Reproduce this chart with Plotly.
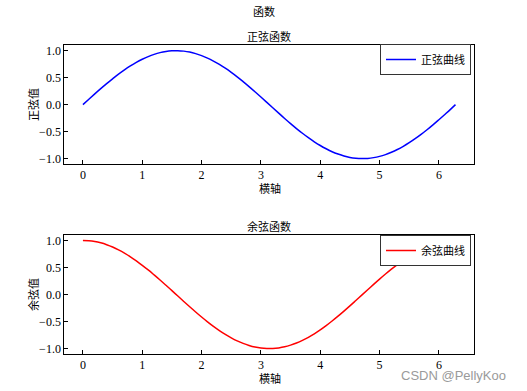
import plotly.graph_objects as go

x_vals = [0.0, 0.1, 0.2, 0.3, 0.4, 0.5, 0.6, 0.7, 0.8, 0.9, 1.0, 1.1, 1.2, 1.3, 1.4, 1.5,
          1.6, 1.7, 1.8, 1.9, 2.0, 2.1, 2.2, 2.3, 2.4, 2.5, 2.6, 2.7, 2.8, 2.9, 3.0, 3.1,
          3.2, 3.3, 3.4, 3.5, 3.6, 3.7, 3.8, 3.9, 4.0, 4.1, 4.2, 4.3, 4.4, 4.5, 4.6, 4.7,
          4.8, 4.9, 5.0, 5.1, 5.2, 5.3, 5.4, 5.5, 5.6, 5.7, 5.8, 5.9, 6.0, 6.1, 6.2, 6.28]
sin_vals = [0.0, 0.1, 0.199, 0.296, 0.389, 0.479, 0.565, 0.644, 0.717, 0.783, 0.841, 0.891, 0.932, 0.964, 0.985, 0.997,
            1.0, 0.992, 0.974, 0.946, 0.909, 0.863, 0.808, 0.746, 0.675, 0.598, 0.516, 0.427, 0.335, 0.239, 0.141, 0.042,
            -0.058, -0.158, -0.256, -0.351, -0.443, -0.53, -0.612, -0.688, -0.757, -0.818, -0.872, -0.916, -0.952, -0.978, -0.994, -1.0,
            -0.996, -0.982, -0.959, -0.926, -0.883, -0.832, -0.773, -0.706, -0.631, -0.551, -0.465, -0.374, -0.279, -0.182, -0.083, 0.0]
cos_vals = [1.0, 0.995, 0.98, 0.955, 0.921, 0.878, 0.825, 0.765, 0.697, 0.622, 0.54, 0.454, 0.362, 0.267, 0.17, 0.071,
            -0.029, -0.129, -0.227, -0.323, -0.416, -0.505, -0.589, -0.666, -0.737, -0.801, -0.857, -0.904, -0.942, -0.971, -0.99, -0.999,
            -0.998, -0.987, -0.967, -0.936, -0.897, -0.848, -0.791, -0.726, -0.654, -0.575, -0.49, -0.401, -0.307, -0.211, -0.112, -0.012,
            0.087, 0.187, 0.284, 0.378, 0.469, 0.554, 0.635, 0.709, 0.776, 0.835, 0.886, 0.927, 0.96, 0.983, 0.997, 1.0]
x_ticks = [0, 1, 2, 3, 4, 5, 6]
y_ticks = [-1.0, -0.5, 0.0, 0.5, 1.0]
y_tick_text = ["\u22121.0", "\u22120.5", "0.0", "0.5", "1.0"]

CJK = "Noto Sans CJK SC"
SERIF = "Liberation Serif, Times New Roman, serif"
W, H = 527, 391

fig = go.Figure()
fig.add_trace(go.Scatter(x=x_vals, y=sin_vals, mode="lines", name="正弦曲线",
                         line=dict(color="blue", width=1.5, shape="spline"),
                         xaxis="x", yaxis="y", legend="legend"))
fig.add_trace(go.Scatter(x=x_vals, y=cos_vals, mode="lines", name="余弦曲线",
                         line=dict(color="red", width=1.5, shape="spline"),
                         xaxis="x2", yaxis="y2", legend="legend2"))

def xax(domain, anchor):
    return dict(domain=domain, anchor=anchor, range=[-0.314, 6.597], tickvals=x_ticks,
                ticks="inside", ticklen=4, tickcolor="black", showline=True, linecolor="black",
                linewidth=1, mirror=True, showgrid=False, zeroline=False, automargin=False,
                tickfont=dict(family=SERIF, size=12, color="black"))

def yax(domain, anchor):
    return dict(domain=domain, anchor=anchor, range=[-1.1, 1.1], tickvals=y_ticks, ticktext=y_tick_text,
                ticks="inside", ticklen=4, tickcolor="black", showline=True, linecolor="black",
                linewidth=1, mirror=True, showgrid=False, zeroline=False, automargin=False,
                tickfont=dict(family=SERIF, size=12, color="black"))

xd = [64.3 / W, 474.3 / W]
y1d = [1 - 164 / H, 1 - 45.3 / H]
y2d = [1 - 354 / H, 1 - 235 / H]

legend_common = dict(xanchor="right", yanchor="middle", bgcolor="white", bordercolor="#333333",
                     borderwidth=1, font=dict(family=CJK, size=11, color="black"),
                     itemwidth=30, tracegroupgap=0)

fig.update_layout(
    width=W, height=H, margin=dict(l=0, r=0, t=0, b=0, autoexpand=False),
    paper_bgcolor="white", plot_bgcolor="white", showlegend=True,
    xaxis=xax(xd, "y"), yaxis=yax(y1d, "x"),
    xaxis2=xax(xd, "y2"), yaxis2=yax(y2d, "x2"),
    legend=dict(x=471 / W, y=1 - 59.5 / H, **legend_common),
    legend2=dict(x=471 / W, y=1 - 250.5 / H, **legend_common),
)

ann = [
    ("函数", 263.5, 11, 11, 0),
    ("正弦函数", 269, 36, 11, 0),
    ("余弦函数", 269, 226, 11, 0),
    ("横轴", 270, 188, 11, 0),
    ("横轴", 270, 378, 11, 0),
    ("正弦值", 33, 105, 11, -90),
    ("余弦值", 33, 295, 11, -90),
]
for text, px, py, size, ang in ann:
    fig.add_annotation(text=text, x=px / W, y=1 - py / H, xref="paper", yref="paper",
                       showarrow=False, textangle=ang, xanchor="center", yanchor="middle",
                       font=dict(family=CJK, size=size, color="black"))

fig.add_annotation(text="CSDN @PellyKoo", x=508 / W, y=1 - 375 / H, xref="paper", yref="paper",
                   showarrow=False, xanchor="right", yanchor="middle",
                   font=dict(family="Liberation Sans, Arial, sans-serif", size=13, color="#9a9a9a"))

fig.write_html("out.html", config={"displayModeBar": False},
               post_script="document.body.style.margin='0';document.body.style.overflow='hidden';")
